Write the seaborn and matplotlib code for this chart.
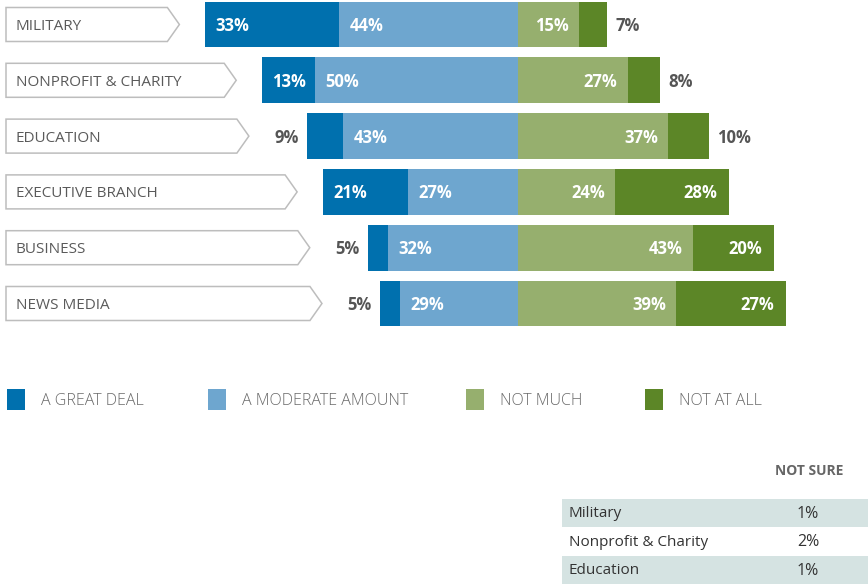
import matplotlib.pyplot as plt
from matplotlib.patches import Polygon, Rectangle
import pandas as pd
import seaborn as sns

categories = ['MILITARY', 'NONPROFIT & CHARITY', 'EDUCATION',
              'EXECUTIVE BRANCH', 'BUSINESS', 'NEWS MEDIA']
great_deal = [33, 13, 9, 21, 5, 5]
moderate = [44, 50, 43, 27, 32, 29]
not_much = [15, 27, 37, 24, 43, 39]
not_at_all = [7, 8, 10, 28, 20, 27]

legend_labels = ['A GREAT DEAL', 'A MODERATE AMOUNT', 'NOT MUCH', 'NOT AT ALL']
colors = ['#0070ae', '#6ea6cf', '#96af6e', '#5c8627']

table_names = ['Military', 'Nonprofit & Charity', 'Education']
table_not_sure = [1, 2, 1]

W, H = 868, 587
PX = 4.06          # pixels per percent
CENTER = 518       # pixel x of the zero line
ROW = 55.8         # pixel distance between rows
TOP = 24.5         # pixel y of the first row centre

plt.rcParams['font.family'] = ['Open Sans', 'DejaVu Sans']


def fx(px):
    return px / W


def fy(py):
    return 1 - py / H


df = pd.DataFrame({
    'category': categories,
    'great': great_deal,
    'moderate': moderate,
    'not_much': not_much,
    'not_at_all': not_at_all,
})
df['left_total'] = -(df['great'] + df['moderate'])
df['left_mod'] = -df['moderate']
df['right_total'] = df['not_much'] + df['not_at_all']

fig = plt.figure(figsize=(W / 100, H / 100), dpi=100)
ax = fig.add_axes([0, 0, 1, 1])

bar_kw = dict(y='category', orient='h', width=0.82, saturation=1, linewidth=0, ax=ax)
sns.barplot(data=df, x='left_total', color=colors[0], **bar_kw)
sns.barplot(data=df, x='left_mod', color=colors[1], **bar_kw)
sns.barplot(data=df, x='right_total', color=colors[3], **bar_kw)
sns.barplot(data=df, x='not_much', color=colors[2], **bar_kw)

ax.set_xlim(-CENTER / PX, (W - CENTER) / PX)
ax.set_ylim((H - TOP) / ROW, -TOP / ROW)
ax.axis('off')

pad = 10 / PX
dark = '#555555'
nudge = 1.5 / ROW   # text sits a touch lower than the matplotlib centre
val_kw = dict(va='center', fontsize=12, fontweight='bold')
for i, r in df.iterrows():
    left = r['left_total']
    ty = i + nudge
    # a great deal
    if r['great'] <= 10:
        ax.text(left - 8 / PX, ty, f"{r['great']}%", ha='right', color=dark, **val_kw)
        lead = left - 58 / PX
    else:
        ax.text(left + pad, ty, f"{r['great']}%", ha='left', color='white', **val_kw)
        lead = left - 26 / PX
    # a moderate amount
    ax.text(r['left_mod'] + pad, ty, f"{r['moderate']}%", ha='left', color='white', **val_kw)
    # not much
    ax.text(r['not_much'] - pad, ty, f"{r['not_much']}%", ha='right', color='white', **val_kw)
    # not at all
    if r['not_at_all'] <= 10:
        ax.text(r['right_total'] + 8 / PX, ty, f"{r['not_at_all']}%", ha='left', color=dark, **val_kw)
    else:
        ax.text(r['right_total'] - 12 / PX, ty, f"{r['not_at_all']}%", ha='right', color='white', **val_kw)

    # arrow shaped label box
    x0 = (6 - CENTER) / PX
    depth = 12 / PX
    hh = 17 / ROW
    box = Polygon([(x0, i - hh), (lead - depth, i - hh), (lead, i),
                   (lead - depth, i + hh), (x0, i + hh)],
                  closed=True, facecolor='white', edgecolor='#bdbdbd', linewidth=1.1)
    ax.add_patch(box)
    ax.text((16 - CENTER) / PX, i + 2 / ROW, r['category'], ha='left', va='center',
            fontsize=11, color='#5a5a5a')

# legend
legend_sq = [7, 208, 466, 645]
for xs, lab, col in zip(legend_sq, legend_labels, colors):
    fig.patches.append(Rectangle((fx(xs), fy(410)), 18 / W, 21 / H,
                                 transform=fig.transFigure, facecolor=col, edgecolor='none'))
    fig.text(fx(xs + 34), fy(401), lab, ha='left', va='center', fontsize=11.5,
             color='#6a6a6a', fontweight='light')

# not sure table
fig.text(fx(809), fy(471), 'NOT SURE', ha='center', va='center', fontsize=10,
         fontweight='bold', color='#666666')
row_h = 28.5
for k, (name, val) in enumerate(zip(table_names, table_not_sure)):
    top = 498.5 + k * row_h
    if k % 2 == 0:
        fig.patches.append(Rectangle((fx(562), fy(top + row_h)), (W - 562) / W, row_h / H,
                                     transform=fig.transFigure, facecolor='#d5e3e2',
                                     edgecolor='none'))
    fig.text(fx(569), fy(top + row_h / 2 + 1), name, ha='left', va='center', fontsize=11,
             color='#333333')
    fig.text(fx(808), fy(top + row_h / 2 + 1), f'{val}%', ha='center', va='center',
             fontsize=11.5, color='#333333')

fig.savefig('out.png', dpi=100)
